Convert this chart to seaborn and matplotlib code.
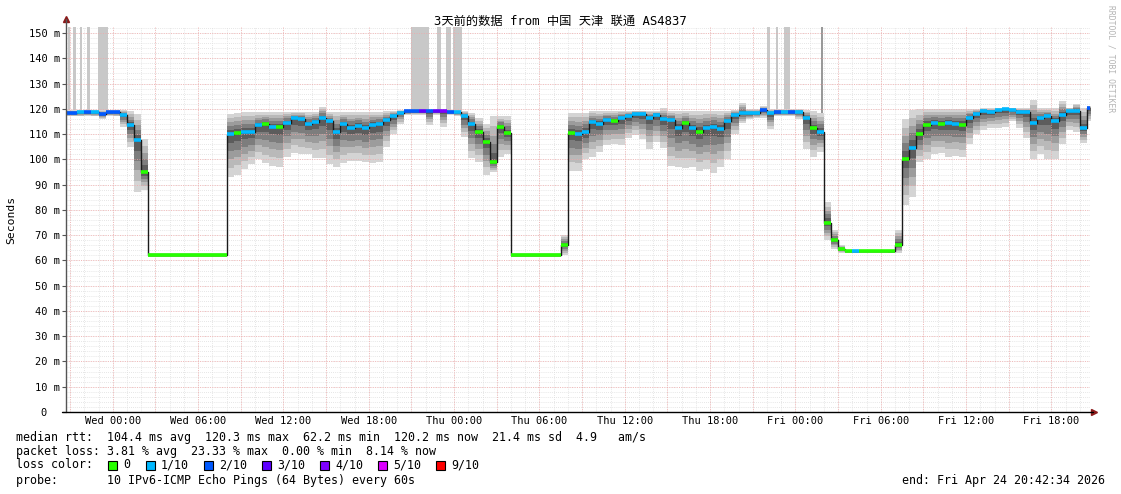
import numpy as np
import matplotlib.pyplot as plt
import seaborn as sns
from matplotlib.patches import Rectangle
from matplotlib.ticker import MultipleLocator, FixedLocator

sns.set_theme(style='white')
plt.rcParams['font.family'] = ['DejaVu Sans Mono', 'Noto Sans CJK SC']

# hours since Wed 00:00, one value per 30 minute bin (Tue 20:30 .. Fri 20:30)
hours = np.arange(-3.5, 69.0, 0.5)

median = [118.5, 118.3, 118.6, 118.8, 118.6, 117.8, 118.7,
          118.6, 117.5, 113.5, 107.5, 95.0, 62.2, 62.3, 62.1, 62.2, 62.3, 62.2, 62.1,
          62.2, 62.3, 62.2, 62.1, 110.0, 110.5, 111.0, 110.9, 113.5, 114.0, 113.0, 113.0,
          114.5, 116.2, 116.0, 114.0, 114.9, 116.5, 115.0, 111.0, 114.0, 112.5, 113.3, 112.3,
          113.6, 114.0, 115.5, 117.0, 118.3, 119.0, 119.1, 119.1, 119.2, 119.2, 119.1, 118.9,
          118.7, 117.0, 114.0, 111.0, 107.0, 99.0, 113.0, 110.5, 62.2, 62.1, 62.2, 62.3,
          62.2, 62.1, 62.2, 66.0, 110.5, 110.0, 110.7, 114.6, 114.0, 115.5, 115.3, 116.2,
          117.0, 118.0, 117.8, 116.5, 117.5, 116.0, 115.5, 112.5, 114.3, 112.3, 111.0, 112.4,
          112.9, 112.0, 115.0, 117.5, 118.2, 118.2, 118.3, 119.4, 118.2, 118.8, 118.8, 118.8,
          118.8, 116.5, 112.5, 111.0, 75.0, 68.0, 64.5, 63.7, 63.6, 63.7, 63.8, 63.7,
          63.7, 63.6, 66.0, 100.0, 104.5, 110.0, 113.8, 114.3, 114.0, 114.5, 114.0, 113.8,
          116.5, 117.8, 119.2, 118.8, 119.6, 119.8, 119.5, 118.9, 118.8, 114.5, 116.5, 117.0,
          115.2, 117.6, 119.2, 119.2, 112.5, 120.2]

# lost pings out of 10
loss = [2, 2, 1, 2, 1, 2, 2,
        2, 1, 1, 1, 0, 0, 0, 0, 0, 0, 0, 0,
        0, 0, 0, 0, 1, 0, 1, 1, 1, 0, 1, 0,
        1, 1, 1, 1, 1, 1, 1, 1, 1, 1, 1, 1,
        1, 1, 1, 1, 1, 2, 2, 3, 2, 3, 4, 2,
        1, 1, 1, 0, 0, 0, 0, 0, 0, 0, 0, 0,
        0, 0, 0, 0, 0, 1, 1, 1, 1, 1, 0, 1,
        1, 1, 1, 1, 1, 1, 1, 1, 0, 1, 0, 1,
        1, 1, 1, 1, 1, 1, 1, 2, 1, 2, 1, 2,
        1, 1, 0, 1, 0, 0, 0, 0, 1, 0, 0, 0,
        0, 0, 0, 0, 1, 0, 0, 1, 0, 1, 1, 0,
        1, 1, 1, 1, 1, 1, 1, 1, 1, 1, 1, 1,
        1, 1, 1, 1, 1, 2]

smoke_hi = [119.5, 119.5, 119.5, 119.5, 119.5, 119.5, 119.5,
            119.5, 119.5, 119.0, 118.0, 108.0, 62.8, 62.8, 62.8, 62.8, 62.8, 62.8, 62.8,
            62.8, 62.8, 62.8, 62.8, 118.0, 118.5, 118.8, 118.8, 118.8, 118.8, 118.8, 118.8,
            118.8, 118.8, 118.8, 118.8, 118.8, 120.8, 118.8, 118.8, 118.8, 118.8, 118.8, 118.8,
            118.8, 118.8, 119.0, 119.3, 119.5, 119.6, 119.6, 119.6, 119.6, 119.6, 119.6, 119.6,
            119.5, 119.0, 118.5, 116.5, 114.0, 117.0, 117.0, 117.0, 62.8, 62.8, 62.8, 62.8,
            62.8, 62.8, 62.8, 70.0, 118.5, 118.5, 118.5, 119.3, 119.3, 119.3, 119.3, 119.3,
            119.3, 119.3, 119.3, 119.3, 119.3, 120.2, 119.3, 119.3, 119.3, 119.3, 119.3, 119.3,
            119.3, 119.3, 119.3, 119.5, 122.5, 119.8, 119.8, 121.0, 119.8, 119.8, 119.8, 119.8,
            119.8, 119.5, 119.0, 118.5, 83.0, 72.0, 66.0, 64.3, 64.3, 64.3, 64.3, 64.3,
            64.3, 64.3, 72.0, 116.0, 119.5, 119.8, 120.0, 120.0, 120.0, 120.0, 120.0, 120.0,
            120.0, 120.0, 120.2, 120.2, 120.2, 120.5, 120.5, 120.2, 120.2, 123.5, 120.2, 120.2,
            120.2, 123.0, 120.5, 122.0, 120.5, 121.0]

smoke_lo = [117.0, 117.0, 117.0, 117.0, 117.0, 116.0, 117.0,
            117.0, 113.0, 105.0, 87.0, 88.0, 61.3, 61.3, 61.3, 61.3, 61.3, 61.3, 61.3,
            61.3, 61.3, 61.3, 61.3, 93.0, 94.0, 96.0, 98.0, 100.0, 98.5, 97.5, 97.0,
            101.0, 102.5, 102.0, 102.0, 100.5, 100.5, 98.0, 97.0, 98.5, 99.5, 99.5, 99.0,
            98.5, 99.0, 105.0, 110.0, 114.0, 117.5, 117.5, 117.5, 113.6, 117.5, 113.0, 117.5,
            117.0, 109.0, 100.5, 99.0, 94.0, 95.0, 101.0, 102.0, 61.3, 61.3, 61.3, 61.3,
            61.3, 61.3, 61.3, 62.0, 95.5, 95.5, 100.0, 101.0, 103.0, 105.5, 106.0, 105.7,
            108.5, 109.6, 108.0, 104.0, 107.0, 104.5, 97.5, 97.0, 96.5, 97.0, 95.5, 96.0,
            94.5, 97.0, 100.0, 110.0, 114.5, 116.0, 116.5, 116.5, 112.0, 117.0, 117.0, 117.0,
            116.0, 104.0, 101.0, 103.0, 68.0, 64.5, 63.0, 62.8, 62.8, 62.8, 62.8, 62.8,
            62.8, 62.8, 63.0, 82.0, 85.0, 99.0, 100.0, 102.0, 102.5, 101.0, 101.5, 101.0,
            106.0, 110.0, 111.5, 112.5, 112.5, 113.0, 115.0, 112.5, 108.5, 100.0, 102.0, 100.0,
            100.0, 106.0, 111.5, 111.0, 106.5, 115.0]

# pings far above the scale (light bars running off the top)
spike_start = [-3.16, -2.81, -2.32, -1.83, -1.05, 21.0, 22.8, 23.4, 23.95, 46.0, 46.6, 47.2]
spike_end = [-3.02, -2.60, -2.18, -1.62, -0.35, 22.2, 23.1, 23.8, 24.55, 46.2, 46.8, 47.6]
spike_bottom = [119.0, 119.0, 119.0, 119.0, 119.0, 119.0, 118.0, 118.8, 118.8, 119.5, 119.5, 119.5]
dark_spike = (49.8, 49.95, 111.0)

tick_hours = [0, 6, 12, 18, 24, 30, 36, 42, 48, 54, 60, 66]
tick_labels = ['Wed 00:00', 'Wed 06:00', 'Wed 12:00', 'Wed 18:00',
               'Thu 00:00', 'Thu 06:00', 'Thu 12:00', 'Thu 18:00',
               'Fri 00:00', 'Fri 06:00', 'Fri 12:00', 'Fri 18:00']

loss_labels = ['0', '1/10', '2/10', '3/10', '4/10', '5/10', '9/10']
loss_colors = ['#26ff00', '#00b8ff', '#0059ff', '#5e00ff', '#7e00ff', '#dd00ff', '#ff0000']
loss_index = {0: 0, 1: 1, 2: 2, 3: 3, 4: 4, 5: 5, 9: 6}

W, H = 1121, 494
fig = plt.figure(figsize=(W / 100, H / 100), dpi=100)
ax = fig.add_axes([66 / W, 82 / H, 1024 / W, 385 / H])
ymax = 152.4
ax.set_xlim(-3.29, 68.71)
ax.set_ylim(0, ymax)

# grid
ax.yaxis.set_major_locator(MultipleLocator(10))
ax.yaxis.set_minor_locator(MultipleLocator(2))
ax.xaxis.set_major_locator(FixedLocator(tick_hours))
ax.xaxis.set_minor_locator(MultipleLocator(1))
ax.set_axisbelow(True)
ax.grid(which='minor', color='#dedede', ls=(0, (1, 1.5)), lw=0.6)
ax.grid(which='major', color='#dedede', ls=(0, (1, 1.5)), lw=0.6)
for v in np.arange(10, 151, 10):
    ax.axhline(v, color='#f5a5a5', ls=(0, (1, 1.5)), lw=0.7, zorder=3, alpha=0.75)
for h in np.arange(-3, 69, 3):
    ax.axvline(h, color='#f5a5a5', ls=(0, (1, 1.5)), lw=0.7, zorder=3, alpha=0.75)

# spikes off the scale
s0 = np.array(spike_start)
ax.bar(s0, ymax - np.array(spike_bottom), bottom=spike_bottom,
       width=np.array(spike_end) - s0, align='edge', color='#c8c8c8', lw=0, zorder=1.5)
ax.bar([dark_spike[0]], [ymax - dark_spike[2]], bottom=[dark_spike[2]],
       width=dark_spike[1] - dark_spike[0], align='edge', color='#999999', lw=0, zorder=1.5)

# smoke
edges = np.append(hours, hours[-1] + 0.5)
med = np.array(median)
hi = np.array(smoke_hi)
lo = np.array(smoke_lo)


def ext(a):
    return np.append(a, a[-1])


greys = ['#d4d4d4', '#b9b9b9', '#9c9c9c', '#7d7d7d', '#5c5c5c']
for f, c in zip([1.0, 0.78, 0.58, 0.4, 0.2], greys):
    ax.fill_between(edges, ext(med - f * (med - lo)), ext(med + f * (hi - med)),
                    step='post', color=c, lw=0, zorder=2)

# median
sns.lineplot(x=edges, y=ext(med), drawstyle='steps-post', color='#1a1a1a',
             lw=1.0, ax=ax, zorder=4)
seg_colors = [loss_colors[loss_index[l]] for l in loss]
ax.hlines(med, hours, hours + 0.5, colors=seg_colors, lw=2.6, zorder=5,
          capstyle='butt')

# axes
for s in ax.spines.values():
    s.set_visible(False)
ax.plot([0, 0], [0, 1.02], transform=ax.transAxes, color='#555555', lw=1, clip_on=False, zorder=6)
ax.plot([-0.004, 1.003], [0, 0], transform=ax.transAxes, color='black', lw=1, clip_on=False, zorder=6)
ax.plot([0], [1.022], marker='^', ms=4, color='#8b1a1a', transform=ax.transAxes, clip_on=False)
ax.plot([1.004], [0], marker='>', ms=4, color='#8b1a1a', transform=ax.transAxes, clip_on=False)

ax.set_yticks(np.arange(0, 151, 10))
ax.set_yticklabels(['0  '] + ['%d m' % v for v in range(10, 151, 10)])
ax.set_xticklabels(tick_labels)
ax.tick_params(axis='y', which='major', left=True, length=3, width=0.8, color='#555555',
               pad=1.2, labelsize=7.5, labelcolor='black')
ax.tick_params(axis='y', which='minor', left=False)
ax.tick_params(axis='x', which='both', bottom=False, length=0, pad=3, labelsize=7.5,
               labelcolor='black')
ax.set_xlabel('')
ax.set_ylabel('')

# texts
fig.text(560 / W, 1 - 21 / H, '3天前的数据 from 中国 天津 联通 AS4837',
         ha='center', va='center', fontsize=8.8, color='black')
fig.text(11 / W, 1 - 220 / H, 'Seconds', rotation=90, ha='center', va='center',
         fontsize=8.2, color='black')
fig.text(1111 / W, 1 - 59 / H, 'RRDTOOL / TOBI OETIKER', rotation=270, ha='center',
         va='center', fontsize=5.8, color='#b4b4b4')

rows = ['median rtt:  104.4 ms avg  120.3 ms max  62.2 ms min  120.2 ms now  21.4 ms sd  4.9   am/s',
        'packet loss: 3.81 % avg  23.33 % max  0.00 % min  8.14 % now',
        'loss color:',
        'probe:       10 IPv6-ICMP Echo Pings (64 Bytes) every 60s']
for r, y in zip(rows, [437, 451, 465, 480]):
    fig.text(16 / W, 1 - y / H, r, ha='left', va='center', fontsize=8.4, color='black')
fig.text(1105 / W, 1 - 480 / H, 'end: Fri Apr 24 20:42:34 2026', ha='right',
         va='center', fontsize=8.4, color='black')

box_x = [108, 146, 204, 262, 320, 378, 436]
for bx, lab, col in zip(box_x, loss_labels, loss_colors):
    fig.patches.append(Rectangle((bx / W, 1 - 469.5 / H), 9 / W, 9 / H,
                                 transform=fig.transFigure, facecolor=col,
                                 edgecolor='black', lw=0.8))
    fig.text((bx + 15) / W, 1 - 465 / H, lab, ha='left', va='center',
             fontsize=8.4, color='black')

fig.savefig('out.png', dpi=100, facecolor='white')
